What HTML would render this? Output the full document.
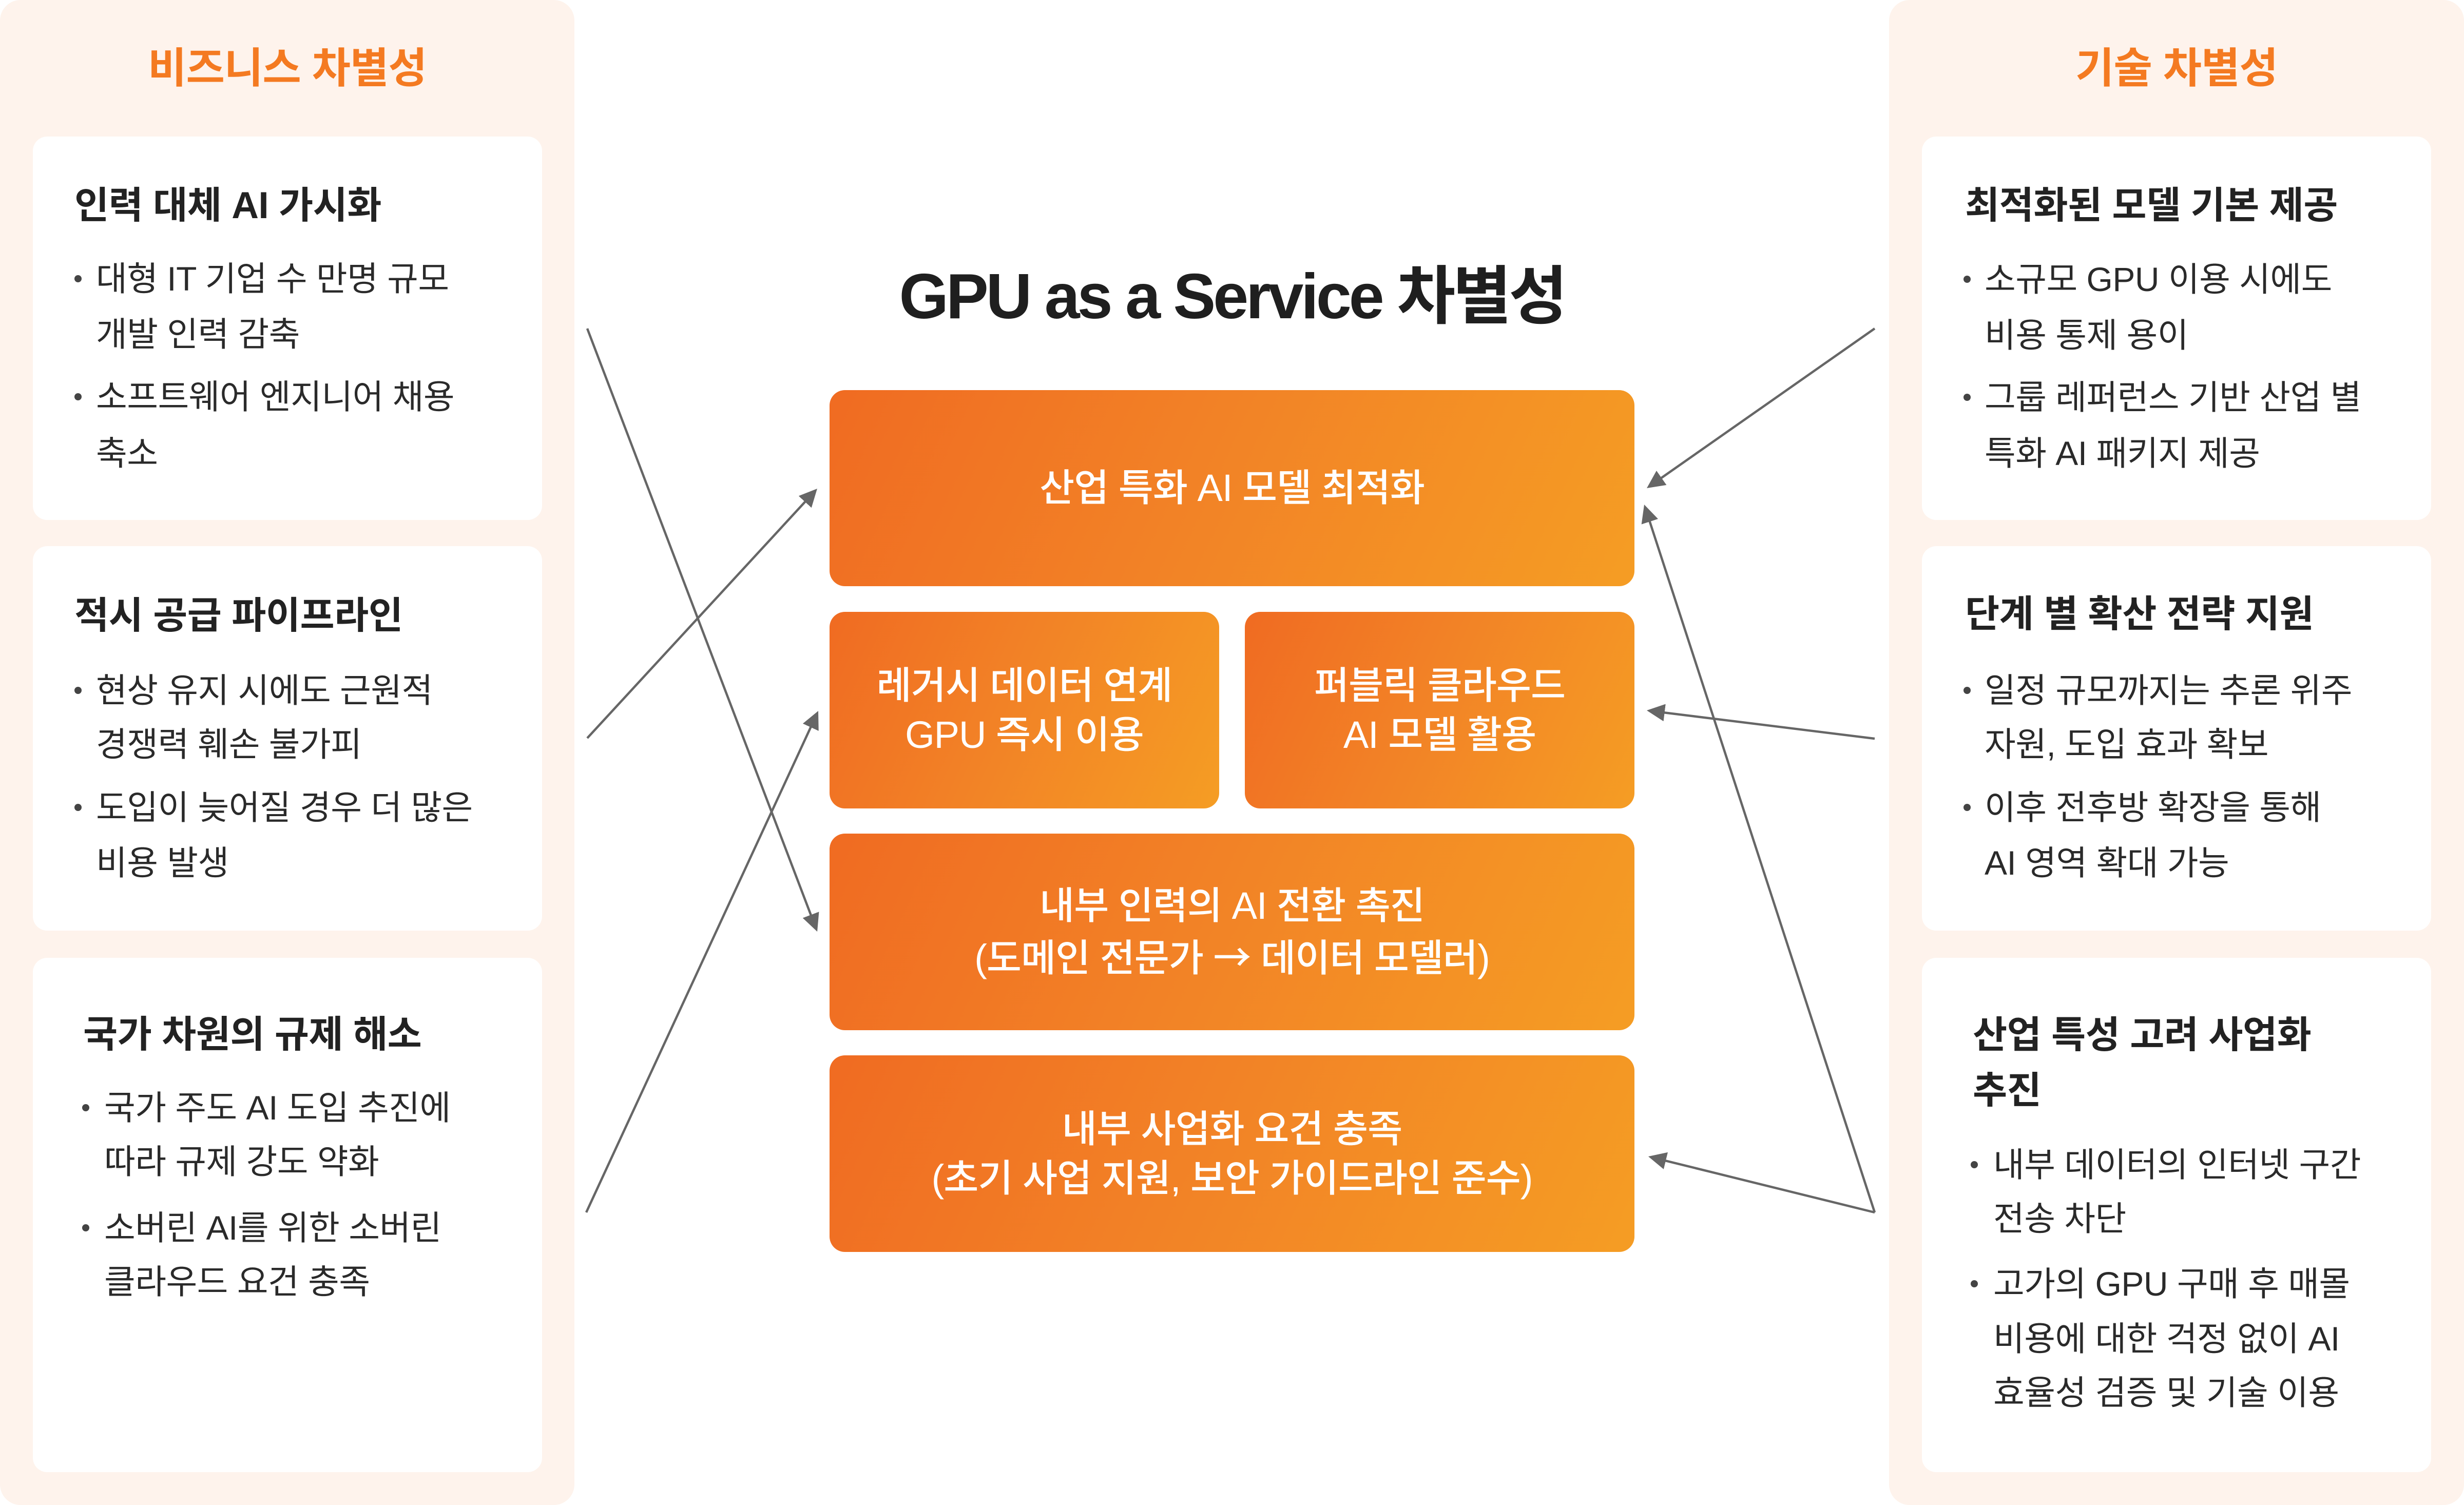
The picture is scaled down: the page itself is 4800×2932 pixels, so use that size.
<!DOCTYPE html>
<html lang="ko">
<head>
<meta charset="utf-8">
<style>
  html,body{margin:0;padding:0;}
  body{width:4800px;height:2932px;position:relative;overflow:hidden;background:#ffffff;
       font-family:"Liberation Sans","Noto Sans CJK KR","Noto Sans CJK JP",sans-serif;}
  .panel{position:absolute;top:0;height:2932px;background:#FEF3EC;border-radius:40px;}
  .ptitle{position:absolute;top:84px;height:100px;line-height:100px;font-size:82px;font-weight:700;color:#F47A21;text-align:center;white-space:nowrap;letter-spacing:-1px;}
  .card{position:absolute;background:#ffffff;border-radius:28px;width:992px;}
  .h{position:absolute;height:100px;line-height:100px;font-size:73px;font-weight:700;color:#222222;white-space:nowrap;letter-spacing:-0.5px;}
  .b{position:absolute;height:100px;line-height:100px;font-size:66px;font-weight:400;color:#2a2a2a;white-space:nowrap;letter-spacing:-0.5px;}
  .dot{position:absolute;width:14px;height:14px;border-radius:50%;background:#444444;}
  .box{position:absolute;border-radius:30px;background:linear-gradient(115deg,#F06B22 0%,#F28226 45%,#F59D24 100%);
       display:flex;flex-direction:column;justify-content:center;align-items:center;color:#ffffff;
       font-size:74px;font-weight:500;line-height:96px;letter-spacing:-1px;white-space:nowrap;text-align:center;}
  .arr{font-family:"Noto Sans CJK KR","Noto Sans CJK JP",sans-serif;}
  .main{position:absolute;left:1616px;width:1568px;top:513px;height:130px;line-height:130px;text-align:center;
        font-size:124px;font-weight:700;color:#1f1f1f;letter-spacing:-5px;white-space:nowrap;}
  svg{position:absolute;left:0;top:0;}
</style>
</head>
<body>

<!-- Left panel -->
<div class="panel" style="left:0;width:1119px;"></div>
<div class="ptitle" style="left:0;width:1119px;">비즈니스 차별성</div>

<div class="card" style="left:64px;top:266px;height:747px;"></div>
<div class="h" style="left:145px;top:351px;">인력 대체 AI 가시화</div>
<div class="dot" style="left:145px;top:536px;"></div>
<div class="b" style="left:187px;top:493px;">대형 IT 기업 수 만명 규모</div>
<div class="b" style="left:187px;top:601px;">개발 인력 감축</div>
<div class="dot" style="left:145px;top:766px;"></div>
<div class="b" style="left:187px;top:723px;">소프트웨어 엔지니어 채용</div>
<div class="b" style="left:187px;top:833px;">축소</div>

<div class="card" style="left:64px;top:1064px;height:749px;"></div>
<div class="h" style="left:145px;top:1150px;">적시 공급 파이프라인</div>
<div class="dot" style="left:145px;top:1338px;"></div>
<div class="b" style="left:187px;top:1295px;">현상 유지 시에도 근원적</div>
<div class="b" style="left:187px;top:1400px;">경쟁력 훼손 불가피</div>
<div class="dot" style="left:145px;top:1566px;"></div>
<div class="b" style="left:187px;top:1523px;">도입이 늦어질 경우 더 많은</div>
<div class="b" style="left:187px;top:1631px;">비용 발생</div>

<div class="card" style="left:64px;top:1866px;height:1002px;"></div>
<div class="h" style="left:162px;top:1966px;">국가 차원의 규제 해소</div>
<div class="dot" style="left:160px;top:2151px;"></div>
<div class="b" style="left:203px;top:2108px;">국가 주도 AI 도입 추진에</div>
<div class="b" style="left:203px;top:2213px;">따라 규제 강도 약화</div>
<div class="dot" style="left:160px;top:2385px;"></div>
<div class="b" style="left:203px;top:2342px;">소버린 AI를 위한 소버린</div>
<div class="b" style="left:203px;top:2447px;">클라우드 요건 충족</div>

<!-- Right panel -->
<div class="panel" style="left:3680px;width:1120px;"></div>
<div class="ptitle" style="left:3680px;width:1120px;">기술 차별성</div>

<div class="card" style="left:3744px;top:266px;height:747px;"></div>
<div class="h" style="left:3828px;top:351px;">최적화된 모델 기본 제공</div>
<div class="dot" style="left:3825px;top:537px;"></div>
<div class="b" style="left:3866px;top:494px;">소규모 GPU 이용 시에도</div>
<div class="b" style="left:3866px;top:603px;">비용 통제 용이</div>
<div class="dot" style="left:3825px;top:767px;"></div>
<div class="b" style="left:3866px;top:724px;">그룹 레퍼런스 기반 산업 별</div>
<div class="b" style="left:3866px;top:833px;">특화 AI 패키지 제공</div>

<div class="card" style="left:3744px;top:1064px;height:749px;"></div>
<div class="h" style="left:3828px;top:1147px;">단계 별 확산 전략 지원</div>
<div class="dot" style="left:3825px;top:1338px;"></div>
<div class="b" style="left:3866px;top:1295px;">일정 규모까지는 추론 위주</div>
<div class="b" style="left:3866px;top:1400px;">자원, 도입 효과 확보</div>
<div class="dot" style="left:3825px;top:1566px;"></div>
<div class="b" style="left:3866px;top:1523px;">이후 전후방 확장을 통해</div>
<div class="b" style="left:3866px;top:1631px;">AI 영역 확대 가능</div>

<div class="card" style="left:3744px;top:1866px;height:1002px;"></div>
<div class="h" style="left:3843px;top:1967px;">산업 특성 고려 사업화</div>
<div class="h" style="left:3843px;top:2075px;">추진</div>
<div class="dot" style="left:3839px;top:2262px;"></div>
<div class="b" style="left:3883px;top:2219px;">내부 데이터의 인터넷 구간</div>
<div class="b" style="left:3883px;top:2324px;">전송 차단</div>
<div class="dot" style="left:3839px;top:2494px;"></div>
<div class="b" style="left:3883px;top:2451px;">고가의 GPU 구매 후 매몰</div>
<div class="b" style="left:3883px;top:2558px;">비용에 대한 걱정 없이 AI</div>
<div class="b" style="left:3883px;top:2663px;">효율성 검증 및 기술 이용</div>

<!-- Center -->
<div class="main">GPU as a Service 차별성</div>

<div class="box" style="left:1616px;top:760px;width:1568px;height:382px;"><div>산업 특화 AI 모델 최적화</div></div>
<div class="box" style="left:1616px;top:1192px;width:759px;height:383px;"><div>레거시 데이터 연계</div><div>GPU 즉시 이용</div></div>
<div class="box" style="left:2425px;top:1192px;width:759px;height:383px;"><div>퍼블릭 클라우드</div><div>AI 모델 활용</div></div>
<div class="box" style="left:1616px;top:1624px;width:1568px;height:383px;"><div>내부 인력의 AI 전환 촉진</div><div>(도메인 전문가 <span class="arr">→</span> 데이터 모델러)</div></div>
<div class="box" style="left:1616px;top:2056px;width:1568px;height:383px;"><div>내부 사업화 요건 충족</div><div>(초기 사업 지원, 보안 가이드라인 준수)</div></div>

<!-- Connectors -->
<svg width="4800" height="2932" viewBox="0 0 4800 2932" xmlns="http://www.w3.org/2000/svg">
  <defs>
    <marker id="ah" markerUnits="userSpaceOnUse" markerWidth="36" markerHeight="34" viewBox="0 0 36 34" refX="15" refY="17" orient="auto">
      <path d="M0,0 L35,17 L0,34 z" fill="#666666"/>
    </marker>
  </defs>
  <g stroke="#666666" stroke-width="4.5" fill="none" marker-end="url(#ah)">
    <line x1="1144" y1="640" x2="1584.9" y2="1796.3"/>
    <line x1="1144" y1="1438" x2="1578.4" y2="966.7"/>
    <line x1="1142" y1="2362" x2="1585.6" y2="1403.2"/>
    <line x1="3652" y1="640" x2="3224.4" y2="939.5"/>
    <line x1="3652" y1="1439" x2="3227.8" y2="1386.5"/>
    <line x1="3652" y1="2362" x2="3209.2" y2="1002.0"/>
    <line x1="3652" y1="2362" x2="3230.4" y2="2257.8"/>
  </g>
</svg>

</body>
</html>
